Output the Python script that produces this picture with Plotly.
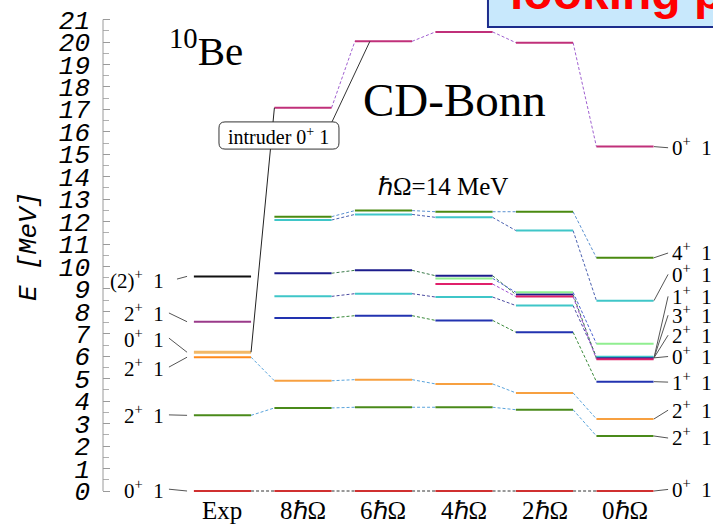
import plotly.graph_objects as go

# ---------------- data ----------------
columns = ["Exp", "8ℏΩ", "6ℏΩ", "4ℏΩ", "2ℏΩ", "0ℏΩ"]

ground_0 = [0.00, 0.00, 0.00, 0.00, 0.00, 0.00]
first_2 = [3.37, 3.70, 3.73, 3.73, 3.62, 2.45]
second_2 = [5.96, 4.91, 4.96, 4.77, 4.37, 3.21]
first_1 = [None, 7.71, 7.81, 7.60, 7.07, 4.87]
cyan_lo = [None, 8.67, 8.79, 8.64, 8.26, 5.98]
navy_lvl = [None, 9.70, 9.83, 9.59, 8.75, 5.91]
crimson_lvl = [None, None, None, 9.22, 8.66, 5.87]
lgreen_lvl = [None, None, None, 9.47, 8.85, 6.56]
cyan_hi = [None, 12.07, 12.32, 12.19, 11.60, 8.48]
green_hi = [None, 12.22, 12.49, 12.44, 12.44, 10.39]
intruder_0 = [6.18, 17.07, 20.03, 20.45, 19.97, 15.34]

exp_only_values = [7.54, 9.56]
exp_only_colors = ["#9a3a8a", "#111111"]

exp_label_text = ["0<sup>+</sup>\u00a0\u00a01", "2<sup>+</sup>\u00a0\u00a01", "2<sup>+</sup>\u00a0\u00a01",
                  "0<sup>+</sup>\u00a0\u00a01", "2<sup>+</sup>\u00a0\u00a01", "(2)<sup>+</sup>\u00a0\u00a01"]
exp_label_levels = [0.00, 3.37, 5.96, 6.18, 7.54, 9.56]
exp_label_pos = [0.08, 3.39, 5.52, 6.81, 7.93, 9.44]

th_label_text = ["0<sup>+</sup>\u00a0\u00a01", "4<sup>+</sup>\u00a0\u00a01", "0<sup>+</sup>\u00a0\u00a01",
                 "1<sup>+</sup>\u00a0\u00a01", "3<sup>+</sup>\u00a0\u00a01", "2<sup>+</sup>\u00a0\u00a01",
                 "0<sup>+</sup>\u00a0\u00a01", "1<sup>+</sup>\u00a0\u00a01", "2<sup>+</sup>\u00a0\u00a01",
                 "2<sup>+</sup>\u00a0\u00a01", "0<sup>+</sup>\u00a0\u00a01"]
th_label_levels = [15.34, 10.39, 8.48, 5.93, 5.93, 5.93, 5.93, 4.87, 3.21, 2.45, 0.00]
th_label_pos = [15.34, 10.65, 9.70, 8.72, 7.88, 6.99, 6.04, 4.90, 3.65, 2.41, 0.12]

# ---------------- geometry ----------------
HALF = 0.355
X_RANGE = [-1.484, 6.093]
Y_RANGE = [-1.5145, 21.871]

series = [
    (ground_0, "#d03030", "#333333"),
    (first_2, "#4a8a1a", "#5aa4dc"),
    (second_2, "#f7a040", "#5aa4dc"),
    (first_1, "#2233b0", "#3a8a3a"),
    (cyan_lo, "#3fc6c8", "#4a4aa0"),
    (navy_lvl, "#1c1c8c", "#3a7a4a"),
    (crimson_lvl, "#e0206a", "#a050d0"),
    (lgreen_lvl, "#90ee90", "#4a60d0"),
    (cyan_hi, "#3fc6c8", "#4a60b0"),
    (green_hi, "#4a8a10", "#5a90d0"),
    (intruder_0, "#c0307a", "#a060d0"),
]

fig = go.Figure()

for vals, col, dcol in series:
    # dashed connections
    cx, cy = [], []
    for i in range(len(vals) - 1):
        a, b = vals[i], vals[i + 1]
        if a is None or b is None:
            continue
        if vals is intruder_0 and i == 0:
            continue
        cx += [i + HALF, i + 1 - HALF, None]
        cy += [a, b, None]
    if cx:
        fig.add_trace(go.Scatter(x=cx, y=cy, mode="lines",
                                 line=dict(color=dcol, width=1, dash="3px,2px"),
                                 hoverinfo="skip", showlegend=False))
    lx, ly = [], []
    for i, v in enumerate(vals):
        if v is None:
            continue
        if vals is intruder_0 and i == 0:
            continue
        if vals is second_2 and i == 0:
            continue
        lx += [i - HALF, i + HALF, None]
        ly += [v, v, None]
    fig.add_trace(go.Scatter(x=lx, y=ly, mode="lines", line=dict(color=col, width=2),
                             hoverinfo="skip", showlegend=False))

# Exp special levels
fig.add_trace(go.Scatter(x=[-HALF, HALF], y=[second_2[0]] * 2, mode="lines",
                         line=dict(color="#ff8a1a", width=2), hoverinfo="skip", showlegend=False))
fig.add_trace(go.Scatter(x=[-HALF, HALF], y=[intruder_0[0]] * 2, mode="lines",
                         line=dict(color="#f2b866", width=3), hoverinfo="skip", showlegend=False))
for v, c in zip(exp_only_values, exp_only_colors):
    fig.add_trace(go.Scatter(x=[-HALF, HALF], y=[v, v], mode="lines",
                             line=dict(color=c, width=2), hoverinfo="skip", showlegend=False))
# intruder connection from experiment (solid)
fig.add_trace(go.Scatter(x=[HALF, 1 - HALF], y=[intruder_0[0], intruder_0[1]], mode="lines",
                         line=dict(color="#222222", width=1), hoverinfo="skip", showlegend=False))

shapes = []
annotations = []
serif = "Liberation Serif"

# left labels (Exp)
for txt, lvl, pos in zip(exp_label_text, exp_label_levels, exp_label_pos):
    annotations.append(dict(x=-0.70, y=pos, xref="x", yref="y", text=txt, showarrow=False,
                            xanchor="right", yanchor="middle",
                            font=dict(family=serif, size=21, color="black")))
    x0 = -0.665 if "(2)" not in txt else -0.565
    shapes.append(dict(type="line", xref="x", yref="y", x0=x0, x1=-0.44, y0=pos, y1=lvl,
                       line=dict(color="#555555", width=1)))

# right labels (0hw)
for txt, lvl, pos in zip(th_label_text, th_label_levels, th_label_pos):
    annotations.append(dict(x=5.555, y=pos, xref="x", yref="y", text=txt, showarrow=False,
                            xanchor="left", yanchor="middle",
                            font=dict(family=serif, size=21, color="black")))
    shapes.append(dict(type="line", xref="x", yref="y", x0=5 + HALF + 0.005, x1=5.535, y0=lvl, y1=pos - 0.05,
                       line=dict(color="#555555", width=1)))

# column labels
for i, c in enumerate(columns):
    annotations.append(dict(x=i, y=-0.85, xref="x", yref="y", text=c, showarrow=False,
                            xanchor="center", yanchor="middle",
                            font=dict(family=serif, size=25, color="black")))

# titles
annotations.append(dict(x=-0.205, y=19.75, xref="x", yref="y", text="<sup>10</sup>Be", showarrow=False,
                        font=dict(family=serif, size=41, color="black")))
annotations.append(dict(x=2.876, y=17.4, xref="x", yref="y", text="CD-Bonn", showarrow=False,
                        font=dict(family=serif, size=47, color="black")))
annotations.append(dict(x=2.739, y=13.55, xref="x", yref="y", text="ℏΩ=14 MeV", showarrow=False,
                        font=dict(family=serif, size=25, color="black")))

# intruder box (rounded) and pointer
bx0, bx1, by0, by1 = -0.0435, 1.447, 15.23, 16.44
rx, ry = 0.075, 0.27
path = (f"M {bx0+rx},{by0} L {bx1-rx},{by0} Q {bx1},{by0} {bx1},{by0+ry} "
        f"L {bx1},{by1-ry} Q {bx1},{by1} {bx1-rx},{by1} L {bx0+rx},{by1} "
        f"Q {bx0},{by1} {bx0},{by1-ry} L {bx0},{by0+ry} Q {bx0},{by0} {bx0+rx},{by0} Z")
shapes.append(dict(type="path", xref="x", yref="y", path=path, fillcolor="white",
                   line=dict(color="#333333", width=1), layer="above"))
shapes.append(dict(type="line", xref="x", yref="y", x0=1.36, y0=by1, x1=2 - HALF + 0.186, y1=intruder_0[2],
                   line=dict(color="#333333", width=1), layer="above"))
annotations.append(dict(x=(bx0 + bx1) / 2, y=(by0 + by1) / 2, xref="x", yref="y",
                        text="intruder 0<sup>+</sup> 1", showarrow=False,
                        font=dict(family=serif, size=20, color="black")))

# y axis line (only 0..21)
def ypaper(e):
    return (e - Y_RANGE[0]) / (Y_RANGE[1] - Y_RANGE[0])

shapes.append(dict(type="line", xref="paper", yref="paper", x0=0, x1=0, y0=ypaper(0), y1=ypaper(21),
                   line=dict(color="#9a9a9a", width=1)))

# y axis title
annotations.append(dict(x=-0.148, y=ypaper(10.9), xref="paper", yref="paper", text="E [MeV]",
                        textangle=-90, showarrow=False,
                        font=dict(family="Liberation Mono", size=26, color="black", style="italic")))

# top-right banner
shapes.append(dict(type="rect", xref="paper", yref="paper", x0=0.6311, x1=1.05, y0=1 - 27 / 525, y1=1.1,
                   fillcolor="#c8e8fc", line=dict(color="#1c2c8c", width=2), layer="above"))
annotations.append(dict(x=0.664, y=1 - 21 / 525, xref="paper", yref="paper", text="<b>looking p</b>",
                        xanchor="left", yanchor="bottom", showarrow=False,
                        font=dict(family="Liberation Sans", size=48, color="#ff0000")))

fig.update_layout(
    width=713, height=525,
    margin=dict(l=103, r=0, t=0, b=0),
    paper_bgcolor="white", plot_bgcolor="white",
    showlegend=False,
    xaxis=dict(range=X_RANGE, visible=False, showgrid=False, zeroline=False),
    yaxis=dict(range=Y_RANGE, showgrid=False, zeroline=False, showline=False,
               tickmode="array", tickvals=list(range(0, 22)),
               ticks="inside", ticklen=7, tickcolor="#9a9a9a", tickwidth=1,
               ticklabelstandoff=12,
               tickfont=dict(family="Liberation Mono", size=26, color="black", style="italic"),
               minor=dict(tickvals=[k + 0.5 for k in range(0, 21)], ticks="inside", ticklen=6,
                          tickcolor="#b0b0b0", tickwidth=1)),
    shapes=shapes,
    annotations=annotations,
)

fig.write_html("out.html")
